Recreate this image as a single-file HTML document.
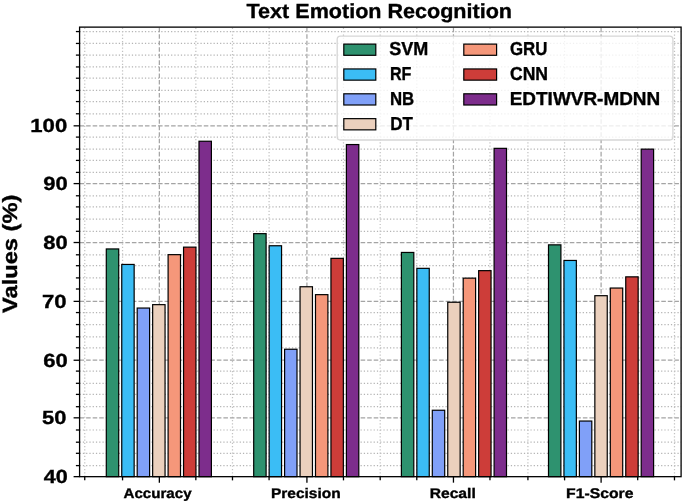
<!DOCTYPE html>
<html><head><meta charset="utf-8"><title>Text Emotion Recognition</title>
<style>
html,body{margin:0;padding:0;background:#fff;}
body{width:685px;height:504px;overflow:hidden;}
svg{display:block;will-change:transform;}
text{font-family:"Liberation Sans",sans-serif;font-weight:bold;fill:#000;text-rendering:geometricPrecision;stroke:#000;stroke-width:0.35px;}
.gmin{stroke:#b4b4b4;stroke-width:1.233;stroke-dasharray:1.233 2.034;fill:none;}
.gminv{stroke:#c2c2c2;stroke-width:1.233;stroke-dasharray:1.233 2.034;fill:none;}
.gmaj{stroke:#a4a4a4;stroke-width:1.233;stroke-dasharray:4.563 1.973;fill:none;}
.bar{stroke:#000;stroke-width:1.2;}
.tk{stroke:#000;stroke-width:1.3;}
</style></head>
<body>
<svg width="685" height="504" viewBox="0 0 685 504">
<rect width="685" height="504" fill="#fff"/>
<line x1="79.59" y1="465.60" x2="681.1" y2="465.60" class="gmin"/>
<line x1="79.59" y1="453.30" x2="681.1" y2="453.30" class="gmin"/>
<line x1="79.59" y1="442.20" x2="681.1" y2="442.20" class="gmin"/>
<line x1="79.59" y1="430.00" x2="681.1" y2="430.00" class="gmin"/>
<line x1="79.59" y1="406.70" x2="681.1" y2="406.70" class="gmin"/>
<line x1="79.59" y1="394.40" x2="681.1" y2="394.40" class="gmin"/>
<line x1="79.59" y1="383.30" x2="681.1" y2="383.30" class="gmin"/>
<line x1="79.59" y1="371.10" x2="681.1" y2="371.10" class="gmin"/>
<line x1="79.59" y1="347.80" x2="681.1" y2="347.80" class="gmin"/>
<line x1="79.59" y1="336.80" x2="681.1" y2="336.80" class="gmin"/>
<line x1="79.59" y1="324.56" x2="681.1" y2="324.56" class="gmin"/>
<line x1="79.59" y1="312.56" x2="681.1" y2="312.56" class="gmin"/>
<line x1="79.59" y1="289.00" x2="681.1" y2="289.00" class="gmin"/>
<line x1="79.59" y1="277.90" x2="681.1" y2="277.90" class="gmin"/>
<line x1="79.59" y1="265.70" x2="681.1" y2="265.70" class="gmin"/>
<line x1="79.59" y1="254.80" x2="681.1" y2="254.80" class="gmin"/>
<line x1="79.59" y1="231.30" x2="681.1" y2="231.30" class="gmin"/>
<line x1="79.59" y1="219.10" x2="681.1" y2="219.10" class="gmin"/>
<line x1="79.59" y1="206.90" x2="681.1" y2="206.90" class="gmin"/>
<line x1="79.59" y1="195.78" x2="681.1" y2="195.78" class="gmin"/>
<line x1="79.59" y1="172.40" x2="681.1" y2="172.40" class="gmin"/>
<line x1="79.59" y1="160.40" x2="681.1" y2="160.40" class="gmin"/>
<line x1="79.59" y1="149.10" x2="681.1" y2="149.10" class="gmin"/>
<line x1="79.59" y1="137.10" x2="681.1" y2="137.10" class="gmin"/>
<line x1="79.59" y1="113.78" x2="681.1" y2="113.78" class="gmin"/>
<line x1="79.59" y1="101.56" x2="681.1" y2="101.56" class="gmin"/>
<line x1="79.59" y1="90.44" x2="681.1" y2="90.44" class="gmin"/>
<line x1="79.59" y1="78.20" x2="681.1" y2="78.20" class="gmin"/>
<line x1="79.59" y1="66.95" x2="681.1" y2="66.95" class="gmin"/>
<line x1="79.59" y1="55.10" x2="681.1" y2="55.10" class="gmin"/>
<line x1="79.59" y1="43.44" x2="681.1" y2="43.44" class="gmin"/>
<line x1="79.59" y1="31.56" x2="681.1" y2="31.56" class="gmin"/>
<line x1="84.74" y1="476.67" x2="84.74" y2="27.12" class="gminv"/>
<line x1="122.55" y1="476.67" x2="122.55" y2="27.12" class="gminv"/>
<line x1="195.84" y1="476.67" x2="195.84" y2="27.12" class="gminv"/>
<line x1="232.48" y1="476.67" x2="232.48" y2="27.12" class="gminv"/>
<line x1="269.08" y1="476.67" x2="269.08" y2="27.12" class="gminv"/>
<line x1="343.47" y1="476.67" x2="343.47" y2="27.12" class="gminv"/>
<line x1="380.19" y1="476.67" x2="380.19" y2="27.12" class="gminv"/>
<line x1="416.79" y1="476.67" x2="416.79" y2="27.12" class="gminv"/>
<line x1="489.96" y1="476.67" x2="489.96" y2="27.12" class="gminv"/>
<line x1="527.92" y1="476.67" x2="527.92" y2="27.12" class="gminv"/>
<line x1="564.57" y1="476.67" x2="564.57" y2="27.12" class="gminv"/>
<line x1="637.69" y1="476.67" x2="637.69" y2="27.12" class="gminv"/>
<line x1="674.48" y1="476.67" x2="674.48" y2="27.12" class="gminv"/>
<line x1="79.59" y1="417.83" x2="681.1" y2="417.83" class="gmaj"/>
<line x1="79.59" y1="360.24" x2="681.1" y2="360.24" class="gmaj"/>
<line x1="79.59" y1="301.38" x2="681.1" y2="301.38" class="gmaj"/>
<line x1="79.59" y1="242.52" x2="681.1" y2="242.52" class="gmaj"/>
<line x1="79.59" y1="183.60" x2="681.1" y2="183.60" class="gmaj"/>
<line x1="79.59" y1="125.83" x2="681.1" y2="125.83" class="gmaj"/>
<line x1="159.35" y1="476.67" x2="159.35" y2="27.12" class="gmaj"/>
<line x1="306.92" y1="476.67" x2="306.92" y2="27.12" class="gmaj"/>
<line x1="453.45" y1="476.67" x2="453.45" y2="27.12" class="gmaj"/>
<line x1="601.10" y1="476.67" x2="601.10" y2="27.12" class="gmaj"/>
<rect x="106.30" y="248.95" width="12.40" height="227.72" fill="#2e926f" class="bar"/>
<rect x="121.75" y="264.45" width="12.40" height="212.22" fill="#3bbdf5" class="bar"/>
<rect x="137.20" y="308.05" width="12.40" height="168.62" fill="#80a0f8" class="bar"/>
<rect x="152.65" y="304.65" width="12.40" height="172.02" fill="#ebd0bd" class="bar"/>
<rect x="168.10" y="254.65" width="12.40" height="222.02" fill="#f5977a" class="bar"/>
<rect x="183.55" y="247.15" width="12.40" height="229.52" fill="#cd3d39" class="bar"/>
<rect x="199.00" y="141.25" width="12.40" height="335.42" fill="#7d2d8c" class="bar"/>
<rect x="253.70" y="233.65" width="12.40" height="243.02" fill="#2e926f" class="bar"/>
<rect x="269.15" y="245.75" width="12.40" height="230.92" fill="#3bbdf5" class="bar"/>
<rect x="284.60" y="349.25" width="12.40" height="127.42" fill="#80a0f8" class="bar"/>
<rect x="300.05" y="286.75" width="12.40" height="189.92" fill="#ebd0bd" class="bar"/>
<rect x="315.50" y="294.65" width="12.40" height="182.02" fill="#f5977a" class="bar"/>
<rect x="330.95" y="258.35" width="12.40" height="218.32" fill="#cd3d39" class="bar"/>
<rect x="346.40" y="144.55" width="12.40" height="332.12" fill="#7d2d8c" class="bar"/>
<rect x="401.40" y="252.45" width="12.40" height="224.22" fill="#2e926f" class="bar"/>
<rect x="416.85" y="268.35" width="12.40" height="208.32" fill="#3bbdf5" class="bar"/>
<rect x="432.30" y="410.25" width="12.40" height="66.42" fill="#80a0f8" class="bar"/>
<rect x="447.75" y="302.25" width="12.40" height="174.42" fill="#ebd0bd" class="bar"/>
<rect x="463.20" y="278.15" width="12.40" height="198.52" fill="#f5977a" class="bar"/>
<rect x="478.65" y="270.65" width="12.40" height="206.02" fill="#cd3d39" class="bar"/>
<rect x="494.10" y="148.35" width="12.40" height="328.32" fill="#7d2d8c" class="bar"/>
<rect x="548.50" y="244.85" width="12.40" height="231.82" fill="#2e926f" class="bar"/>
<rect x="563.95" y="260.45" width="12.40" height="216.22" fill="#3bbdf5" class="bar"/>
<rect x="579.40" y="421.05" width="12.40" height="55.62" fill="#80a0f8" class="bar"/>
<rect x="594.85" y="295.70" width="12.40" height="180.97" fill="#ebd0bd" class="bar"/>
<rect x="610.30" y="288.05" width="12.40" height="188.62" fill="#f5977a" class="bar"/>
<rect x="625.75" y="276.85" width="12.40" height="199.82" fill="#cd3d39" class="bar"/>
<rect x="641.20" y="149.15" width="12.40" height="327.52" fill="#7d2d8c" class="bar"/>
<rect x="337.2" y="36.1" width="335.70" height="103.90" rx="3.2" fill="#ffffff" fill-opacity="0.8" stroke="#cccccc" stroke-opacity="0.8" stroke-width="1.3"/>
<rect x="343.80" y="44.10" width="32.00" height="11.20" fill="#2e926f" class="bar"/>
<rect x="343.80" y="68.95" width="32.00" height="11.20" fill="#3bbdf5" class="bar"/>
<rect x="343.80" y="93.80" width="32.00" height="11.20" fill="#80a0f8" class="bar"/>
<rect x="343.80" y="118.65" width="32.00" height="11.20" fill="#ebd0bd" class="bar"/>
<rect x="463.80" y="44.10" width="32.80" height="11.20" fill="#f5977a" class="bar"/>
<rect x="463.80" y="68.95" width="32.80" height="11.20" fill="#cd3d39" class="bar"/>
<rect x="463.80" y="93.80" width="32.80" height="11.20" fill="#7d2d8c" class="bar"/>
<rect x="79.59" y="27.12" width="601.51" height="449.55" fill="none" stroke="#000" stroke-width="1.3"/>
<line x1="73.59" y1="476.67" x2="79.59" y2="476.67" class="tk"/>
<line x1="73.59" y1="417.83" x2="79.59" y2="417.83" class="tk"/>
<line x1="73.59" y1="360.24" x2="79.59" y2="360.24" class="tk"/>
<line x1="73.59" y1="301.38" x2="79.59" y2="301.38" class="tk"/>
<line x1="73.59" y1="242.52" x2="79.59" y2="242.52" class="tk"/>
<line x1="73.59" y1="183.60" x2="79.59" y2="183.60" class="tk"/>
<line x1="73.59" y1="125.83" x2="79.59" y2="125.83" class="tk"/>
<line x1="75.89" y1="465.60" x2="79.59" y2="465.60" class="tk"/>
<line x1="75.89" y1="453.30" x2="79.59" y2="453.30" class="tk"/>
<line x1="75.89" y1="442.20" x2="79.59" y2="442.20" class="tk"/>
<line x1="75.89" y1="430.00" x2="79.59" y2="430.00" class="tk"/>
<line x1="75.89" y1="406.70" x2="79.59" y2="406.70" class="tk"/>
<line x1="75.89" y1="394.40" x2="79.59" y2="394.40" class="tk"/>
<line x1="75.89" y1="383.30" x2="79.59" y2="383.30" class="tk"/>
<line x1="75.89" y1="371.10" x2="79.59" y2="371.10" class="tk"/>
<line x1="75.89" y1="347.80" x2="79.59" y2="347.80" class="tk"/>
<line x1="75.89" y1="336.80" x2="79.59" y2="336.80" class="tk"/>
<line x1="75.89" y1="324.56" x2="79.59" y2="324.56" class="tk"/>
<line x1="75.89" y1="312.56" x2="79.59" y2="312.56" class="tk"/>
<line x1="75.89" y1="289.00" x2="79.59" y2="289.00" class="tk"/>
<line x1="75.89" y1="277.90" x2="79.59" y2="277.90" class="tk"/>
<line x1="75.89" y1="265.70" x2="79.59" y2="265.70" class="tk"/>
<line x1="75.89" y1="254.80" x2="79.59" y2="254.80" class="tk"/>
<line x1="75.89" y1="231.30" x2="79.59" y2="231.30" class="tk"/>
<line x1="75.89" y1="219.10" x2="79.59" y2="219.10" class="tk"/>
<line x1="75.89" y1="206.90" x2="79.59" y2="206.90" class="tk"/>
<line x1="75.89" y1="195.78" x2="79.59" y2="195.78" class="tk"/>
<line x1="75.89" y1="172.40" x2="79.59" y2="172.40" class="tk"/>
<line x1="75.89" y1="160.40" x2="79.59" y2="160.40" class="tk"/>
<line x1="75.89" y1="149.10" x2="79.59" y2="149.10" class="tk"/>
<line x1="75.89" y1="137.10" x2="79.59" y2="137.10" class="tk"/>
<line x1="75.89" y1="113.78" x2="79.59" y2="113.78" class="tk"/>
<line x1="75.89" y1="101.56" x2="79.59" y2="101.56" class="tk"/>
<line x1="75.89" y1="90.44" x2="79.59" y2="90.44" class="tk"/>
<line x1="75.89" y1="78.20" x2="79.59" y2="78.20" class="tk"/>
<line x1="75.89" y1="66.95" x2="79.59" y2="66.95" class="tk"/>
<line x1="75.89" y1="55.10" x2="79.59" y2="55.10" class="tk"/>
<line x1="75.89" y1="43.44" x2="79.59" y2="43.44" class="tk"/>
<line x1="75.89" y1="31.56" x2="79.59" y2="31.56" class="tk"/>
<line x1="159.35" y1="476.67" x2="159.35" y2="482.67" class="tk"/>
<line x1="306.92" y1="476.67" x2="306.92" y2="482.67" class="tk"/>
<line x1="453.45" y1="476.67" x2="453.45" y2="482.67" class="tk"/>
<line x1="601.10" y1="476.67" x2="601.10" y2="482.67" class="tk"/>
<line x1="84.74" y1="476.67" x2="84.74" y2="480.37" class="tk"/>
<line x1="122.55" y1="476.67" x2="122.55" y2="480.37" class="tk"/>
<line x1="195.84" y1="476.67" x2="195.84" y2="480.37" class="tk"/>
<line x1="232.48" y1="476.67" x2="232.48" y2="480.37" class="tk"/>
<line x1="269.08" y1="476.67" x2="269.08" y2="480.37" class="tk"/>
<line x1="343.47" y1="476.67" x2="343.47" y2="480.37" class="tk"/>
<line x1="380.19" y1="476.67" x2="380.19" y2="480.37" class="tk"/>
<line x1="416.79" y1="476.67" x2="416.79" y2="480.37" class="tk"/>
<line x1="489.96" y1="476.67" x2="489.96" y2="480.37" class="tk"/>
<line x1="527.92" y1="476.67" x2="527.92" y2="480.37" class="tk"/>
<line x1="564.57" y1="476.67" x2="564.57" y2="480.37" class="tk"/>
<line x1="637.69" y1="476.67" x2="637.69" y2="480.37" class="tk"/>
<line x1="674.48" y1="476.67" x2="674.48" y2="480.37" class="tk"/>
<text x="246.56" y="17.60" font-size="20.49" textLength="265.47" lengthAdjust="spacingAndGlyphs">Text Emotion Recognition</text>
<text x="43.67" y="483.27" font-size="19.05" textLength="24.02" lengthAdjust="spacingAndGlyphs">40</text>
<text x="42.02" y="424.43" font-size="19.05" textLength="24.38" lengthAdjust="spacingAndGlyphs">50</text>
<text x="43.19" y="366.84" font-size="19.05" textLength="24.52" lengthAdjust="spacingAndGlyphs">60</text>
<text x="41.94" y="307.98" font-size="19.05" textLength="24.67" lengthAdjust="spacingAndGlyphs">70</text>
<text x="43.30" y="249.12" font-size="19.05" textLength="24.40" lengthAdjust="spacingAndGlyphs">80</text>
<text x="43.23" y="190.20" font-size="19.05" textLength="24.47" lengthAdjust="spacingAndGlyphs">90</text>
<text x="30.28" y="132.43" font-size="19.05" textLength="36.99" lengthAdjust="spacingAndGlyphs">100</text>
<text x="123.52" y="497.60" font-size="13.95" textLength="68.06" lengthAdjust="spacingAndGlyphs">Accuracy</text>
<text x="270.96" y="497.60" font-size="13.95" textLength="69.70" lengthAdjust="spacingAndGlyphs">Precision</text>
<text x="429.65" y="497.60" font-size="13.95" textLength="46.16" lengthAdjust="spacingAndGlyphs">Recall</text>
<text x="566.05" y="497.60" font-size="13.95" textLength="67.39" lengthAdjust="spacingAndGlyphs">F1-Score</text>
<text x="389.28" y="55.00" font-size="18.75" textLength="39.13" lengthAdjust="spacingAndGlyphs">SVM</text>
<text x="389.92" y="79.85" font-size="18.75" textLength="21.47" lengthAdjust="spacingAndGlyphs">RF</text>
<text x="389.98" y="104.70" font-size="18.75" textLength="24.29" lengthAdjust="spacingAndGlyphs">NB</text>
<text x="390.36" y="129.55" font-size="18.75" textLength="22.62" lengthAdjust="spacingAndGlyphs">DT</text>
<text x="510.01" y="55.00" font-size="18.75" textLength="37.42" lengthAdjust="spacingAndGlyphs">GRU</text>
<text x="509.98" y="79.85" font-size="18.75" textLength="38.11" lengthAdjust="spacingAndGlyphs">CNN</text>
<text x="509.73" y="104.70" font-size="18.75" textLength="150.54" lengthAdjust="spacingAndGlyphs">EDTIWVR-MDNN</text>
<g transform="translate(17.4 254.3) rotate(-90)"><text x="-58.66" y="0.00" font-size="20.64" textLength="118.33" lengthAdjust="spacingAndGlyphs">Values (%)</text></g>
</svg>
</body></html>
